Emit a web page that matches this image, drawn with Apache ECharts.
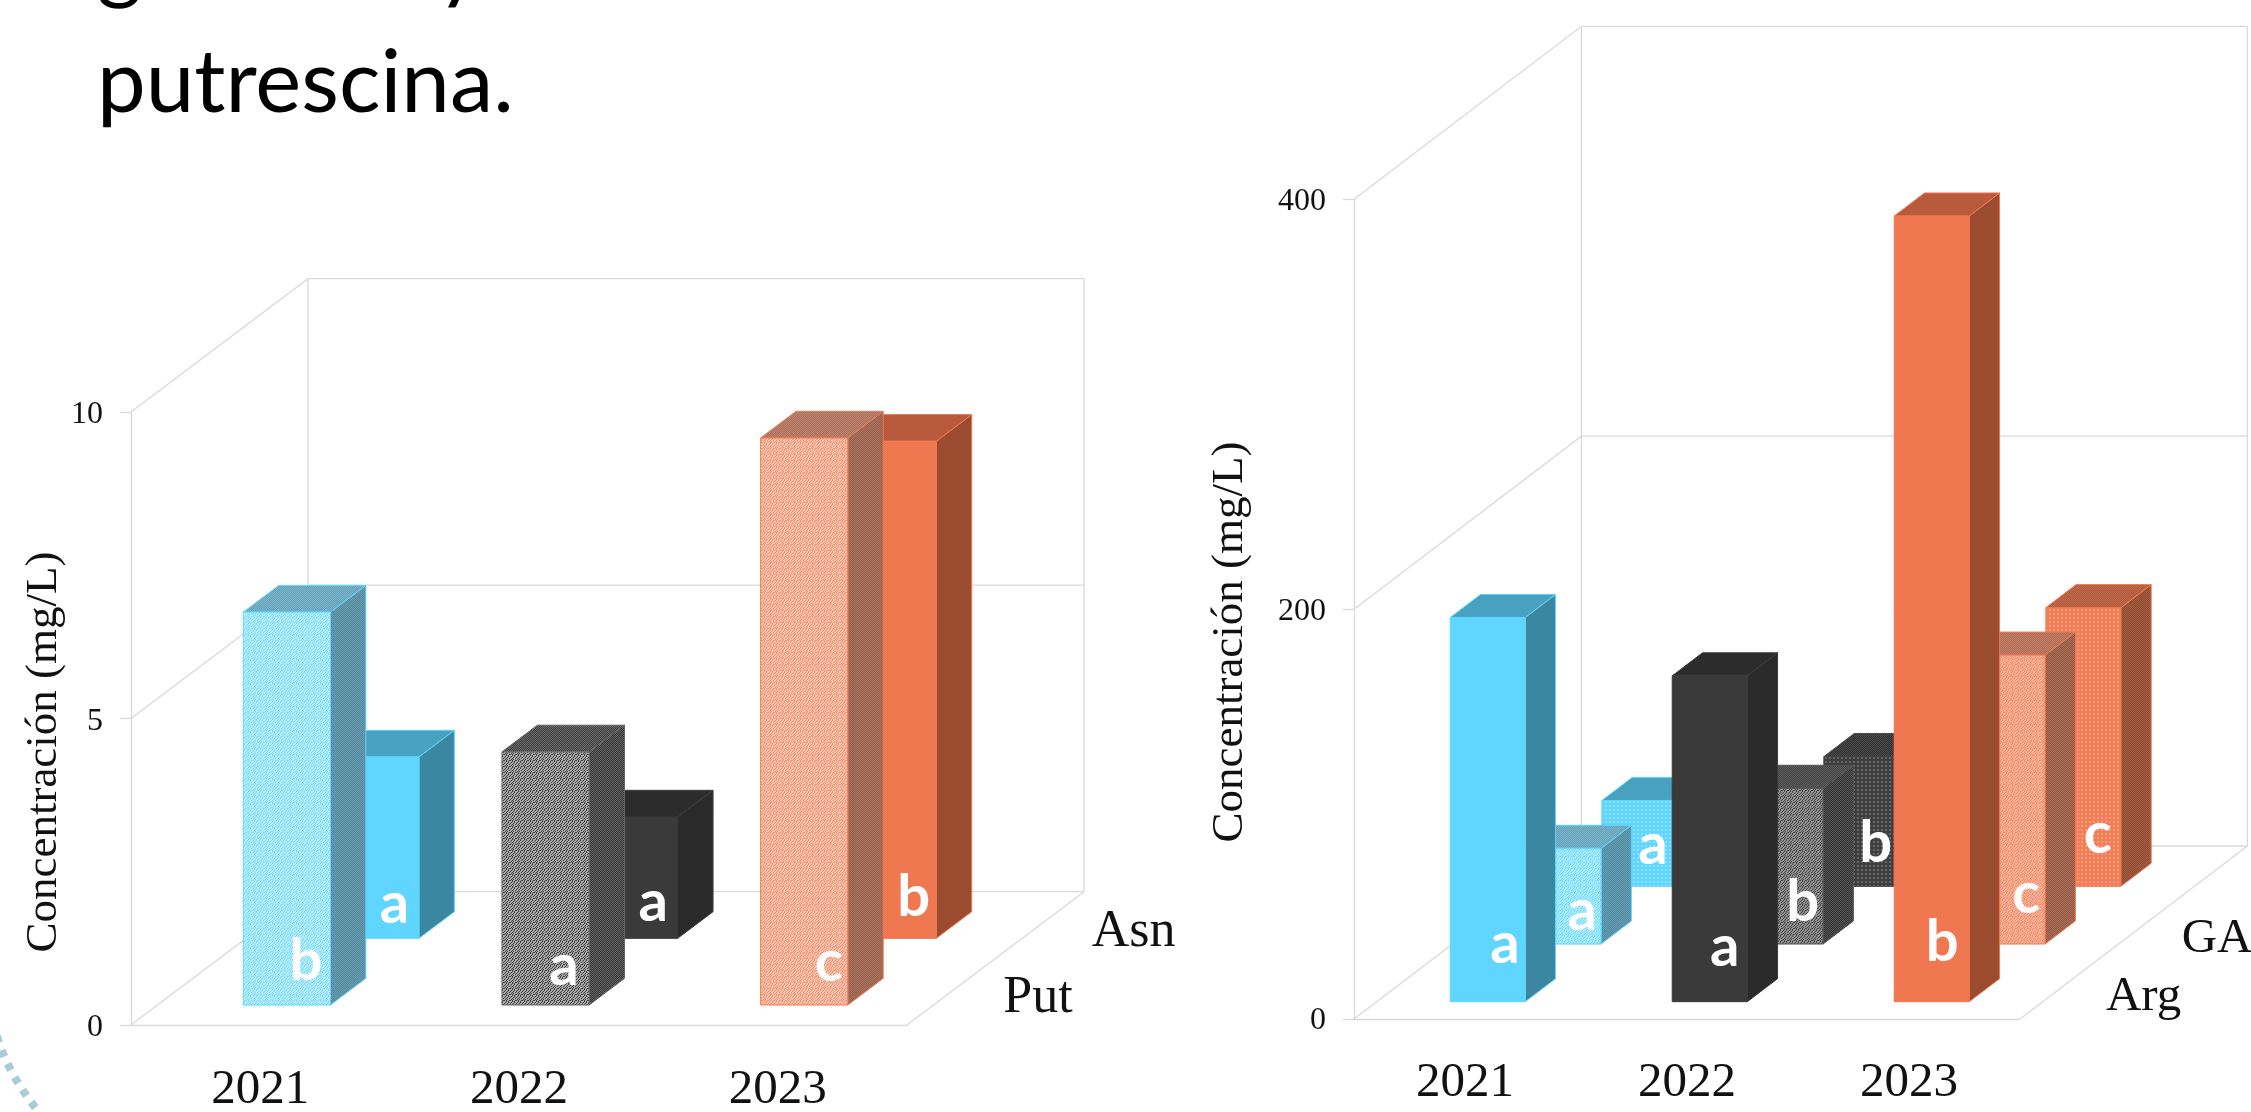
<!DOCTYPE html>
<html lang="es">
<head>
<meta charset="utf-8">
<title>Concentración de aminoácidos y putrescina</title>
<script src="https://cdn.jsdelivr.net/npm/echarts@6/dist/echarts.min.js"></script>
<style>
  html, body { margin: 0; padding: 0; background: #fff; overflow: hidden; }
  #chart { width: 2251px; height: 1112px; }
</style>
</head>
<body>
<div id="chart"></div>
<script>
// Vintages on the horizontal axis
const years = ['2021', '2022', '2023'];

// Left panel, mg/L
const putValues = [6.41, 4.13, 9.25];
const asnValues = [2.96, 1.98, 8.11];
const putLetters = ['b', 'a', 'c'];
const asnLetters = ['a', 'a', 'b'];

// Right panel, mg/L (third row's name falls beyond the page edge)
const argValues = [187.5, 159, 383.4];
const gabaValues = [46.7, 76, 141];
const rearValues = [41.9, 63.3, 136];
const argLetters = ['a', 'a', 'b'];
const gabaLetters = ['a', 'b', 'c'];
const rearLetters = ['a', 'b', 'c'];

const leftTicks = [0, 5, 10];
const rightTicks = [0, 200, 400];
const leftRows = ['Put', 'Asn'];
const rightRows = ['Arg', 'GABA'];

const SERIF = '"Liberation Serif", "DejaVu Serif", serif';
const WALL = '#D9D9D9';

// Two-tone bitmap tiles for the stippled bar faces
const WEAVE = ['101101', '011011', '110110', '101011', '010110', '110101'];
const FINE = ['1010', '0101', '1010', '0101'];
const MESH = ['0000', '0110', '0110', '0000'];

function tile(bits, base, dot) {
  const c = document.createElement('canvas');
  c.width = bits[0].length;
  c.height = bits.length;
  const g = c.getContext('2d');
  bits.forEach((row, y) => {
    [...row].forEach((b, x) => {
      g.fillStyle = b === '1' ? dot : base;
      g.fillRect(x, y, 1, 1);
    });
  });
  return { image: c, repeat: 'repeat' };
}

const solid = (front, side, top) => ({ front, side, top, edge: front });
const stippled = (edge, f, s, t, bits) => ({
  front: tile(bits || WEAVE, f[0], f[1]),
  side: tile(FINE, s[0], s[1]),
  top: tile(FINE, t[0], t[1]),
  edge
});

const BLUE = '#5FD5FF', GREY = '#3A3A3A', ORANGE = '#F07850';
const solidRow = [
  solid(BLUE, '#3B87A2', '#49A1C1'),
  solid(GREY, '#2A2A2A', '#2C2C2C'),
  solid(ORANGE, '#9B4B2F', '#B75B3C')
];
const putRow = [
  stippled(BLUE, ['#70DAFF', '#BDEEFF'], ['#54899E', '#6A9CB0'], ['#62A3BC', '#7DB2C7']),
  stippled('#666', ['#404040', '#A8A8A8'], ['#333333', '#666666'], ['#404040', '#6A6A6A']),
  stippled(ORANGE, ['#F28A66', '#FBC7B4'], ['#96604D', '#A9735F'], ['#AA6E59', '#BE8570'])
];
const gabaRow = [
  stippled(BLUE, ['#72DAFF', '#ADEBFF'], ['#4E8CA3', '#6A9CB0'], ['#62A3BC', '#7DB2C7']),
  stippled('#555', ['#4A4A4A', '#8F8F8F'], ['#333333', '#555555'], ['#444444', '#5C5C5C']),
  stippled(ORANGE, ['#F28A66', '#F9B199'], ['#935840', '#A96F5A'], ['#AF6A53', '#C47F69'])
];
const rearRow = [
  stippled(BLUE, [BLUE, '#8CE2FF'], ['#3B87A2', '#3B87A2'], ['#49A1C1', '#49A1C1'], MESH),
  stippled('#444', ['#3E3E3E', '#666666'], ['#2E2E2E', '#444444'], ['#303030', '#4A4A4A'], MESH),
  stippled(ORANGE, ['#F27E58', '#F69C7E'], ['#8F4C30', '#A35E42'], ['#B05A3B', '#BE6C4D'], MESH)
];

// Oblique projection of each panel: how far the rear wall is shifted from the front plane
const leftBox = { dx: 177, dy: 133.3, barShare: 0.337, barDepth: 0.2 };
const rightBox = { dx: 227.4, dy: 173, barShare: 0.338, barDepth: 0.1333 };

// Wall lines of a panel: rear wall, side wall and floor
function wallSeries(index, ticks, box) {
  return {
    type: 'custom',
    xAxisIndex: index,
    yAxisIndex: index,
    silent: true,
    z: 1,
    data: ticks.map(t => [0, t]),
    encode: { x: 0, y: 1 },
    renderItem(params, api) {
      const cs = params.coordSys;
      const y = api.coord([0, api.value(1)])[1];
      const x0 = cs.x, x1 = cs.x + cs.width;
      const bx0 = x0 + box.dx, bx1 = x1 + box.dx;
      const lineStyle = { stroke: WALL, lineWidth: 1.3, fill: null };
      const path = points => ({ type: 'polyline', shape: { points }, style: lineStyle, silent: true });
      const children = [path([[x0, y], [bx0, y - box.dy], [bx1, y - box.dy]])];
      if (params.dataIndex === 0) {
        const yTop = cs.y - box.dy;
        children.push(path([[bx0, y - box.dy], [bx0, yTop]]));
        children.push(path([[bx1, y - box.dy], [bx1, yTop]]));
        children.push(path([[x1, y], [bx1, y - box.dy]]));
      }
      return { type: 'group', children };
    }
  };
}

// One depth row of cuboid bars
function rowSeries(index, name, values, letters, looks, box, d0, labelSpots) {
  return {
    type: 'custom',
    name,
    xAxisIndex: index,
    yAxisIndex: index,
    z: 2,
    data: values.map((v, i) => [i, v]),
    encode: { x: 0, y: 1 },
    renderItem(params, api) {
      const i = api.value(0);
      const barW = api.size([1, 0])[0] * box.barShare;
      const cx = api.coord([i, 0])[0];
      const left = cx - barW / 2 + d0 * box.dx;
      const right = left + barW;
      const base = api.coord([i, 0])[1] - d0 * box.dy;
      const top = api.coord([i, api.value(1)])[1] - d0 * box.dy;
      const ox = box.barDepth * box.dx, oy = box.barDepth * box.dy;
      const look = looks[i];
      const face = (points, fill) => ({
        type: 'polygon',
        shape: { points },
        style: { fill, stroke: look.edge, lineWidth: 1 }
      });
      const spot = labelSpots[i];
      return {
        type: 'group',
        children: [
          face([[right, top], [right + ox, top - oy], [right + ox, base - oy], [right, base]], look.side),
          face([[left, top], [left + ox, top - oy], [right + ox, top - oy], [right, top]], look.top),
          face([[left, top], [right, top], [right, base], [left, base]], look.front),
          {
            type: 'text',
            style: {
              text: letters[i],
              x: left + barW * spot[0],
              y: base - spot[1],
              fill: '#FFFFFF',
              font: 'bold 58px Lato, "Open Sans", sans-serif',
              align: 'center',
              verticalAlign: 'middle'
            }
          }
        ]
      };
    }
  };
}

// Row names along the right edge of the floor
function depthSeries(index, rows, count, box, shiftX, fontSize) {
  return {
    type: 'custom',
    xAxisIndex: index,
    yAxisIndex: index,
    silent: true,
    z: 3,
    data: rows.map((r, i) => [i, 0]),
    encode: { x: 0, y: 1 },
    renderItem(params, api) {
      const cs = params.coordSys;
      const i = params.dataIndex;
      const d = (i + 0.5) / count;
      return {
        type: 'text',
        style: {
          text: rows[i],
          x: cs.x + cs.width + d * box.dx + shiftX,
          y: api.coord([0, 0])[1] - d * box.dy + 7,
          fill: '#111',
          font: fontSize + 'px ' + SERIF,
          align: 'left',
          verticalAlign: 'middle'
        }
      };
    }
  };
}

function xAxisFor(gridIndex, margin) {
  return {
    type: 'category',
    gridIndex,
    data: years,
    axisLine: { show: true, lineStyle: { color: WALL, width: 1.3 } },
    axisTick: { show: false },
    axisLabel: { color: '#111', fontFamily: SERIF, fontSize: 49, margin }
  };
}

function yAxisFor(gridIndex, max, interval, drop) {
  return {
    type: 'value',
    gridIndex,
    min: 0,
    max,
    interval,
    splitLine: { show: false },
    axisLine: { show: true, lineStyle: { color: WALL, width: 1.3 } },
    axisTick: { show: true, length: 11, lineStyle: { color: WALL, width: 1.3 } },
    // a short line box hung from the tick sets the tick label a little below it
    axisLabel: {
      color: '#111', fontFamily: SERIF, fontSize: 32, margin: 28,
      verticalAlign: 'top', lineHeight: drop * 2
    }
  };
}

function axisTitle(x, y) {
  return {
    type: 'text',
    x,
    y,
    rotation: Math.PI / 2,
    style: {
      text: 'Concentración (mg/L)',
      font: '45px ' + SERIF,
      fill: '#111',
      align: 'center',
      verticalAlign: 'middle'
    }
  };
}

const chart = echarts.init(document.getElementById('chart'), null, { renderer: 'canvas' });

chart.setOption({
  animation: false,
  backgroundColor: '#FFFFFF',
  grid: [
    { left: 131, top: 412, width: 776, height: 613, outerBoundsMode: 'none' },
    { left: 1354, top: 199.3, width: 666, height: 819.7, outerBoundsMode: 'none' }
  ],
  xAxis: [xAxisFor(0, 41), xAxisFor(1, 40)],
  yAxis: [yAxisFor(0, 10, 5, 3), yAxisFor(1, 400, 200, 2)],
  graphic: [
    axisTitle(44, 752),
    axisTitle(1230, 642),
    {
      type: 'text', x: 97, y: -36,
      style: { text: 'glicerina y', font: '87px Lato, sans-serif', fill: '#000', align: 'left', verticalAlign: 'middle' }
    },
    {
      type: 'text', x: 97, y: 84,
      style: { text: 'putrescina.', font: '87px Lato, sans-serif', fill: '#000', align: 'left', verticalAlign: 'middle' }
    },
    {
      type: 'bezierCurve',
      shape: { x1: -3, y1: 1036, cpx1: 8, cpy1: 1075, x2: 42, y2: 1116 },
      style: { stroke: '#A9CDD4', lineWidth: 8, lineDash: [7, 8], fill: null }
    }
  ],
  series: [
    wallSeries(0, leftTicks, leftBox),
    wallSeries(1, rightTicks, rightBox),

    rowSeries(0, 'Asn', asnValues, asnLetters, solidRow, leftBox, 0.65,
      [[0.72, 34], [0.72, 36], [0.74, 41]]),
    rowSeries(0, 'Put', putValues, putLetters, putRow, leftBox, 0.15,
      [[0.72, 44], [0.71, 39], [0.78, 43]]),
    depthSeries(0, leftRows, 2, leftBox, 52, 52),

    rowSeries(1, 'Fila posterior', rearValues, rearLetters, rearRow, rightBox, 0.7667,
      [[0.68, 41], [0.69, 43], [0.69, 52]]),
    rowSeries(1, 'GABA', gabaValues, gabaLetters, gabaRow, rightBox, 0.4333,
      [[0.75, 33], [0.73, 42], [0.75, 50]]),
    rowSeries(1, 'Arg', argValues, argLetters, solidRow, rightBox, 0.1,
      [[0.73, 57], [0.70, 54], [0.64, 59]]),
    depthSeries(1, rightRows, 3, rightBox, 48, 49)
  ]
});
</script>
</body>
</html>
